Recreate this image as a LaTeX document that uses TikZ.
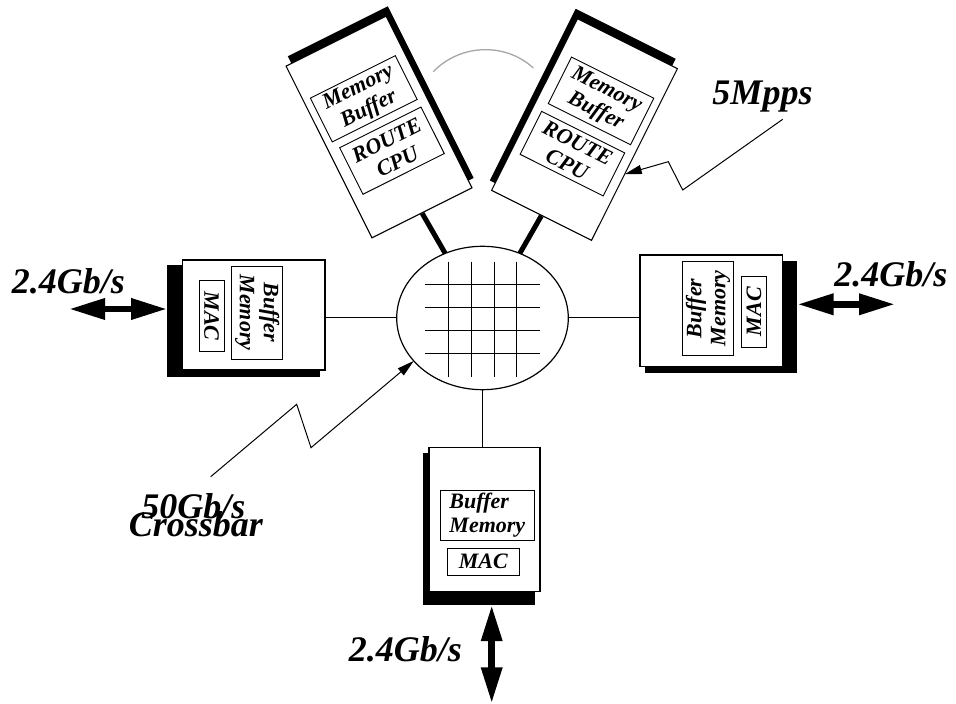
\documentclass[tikz,border=0pt]{standalone}
\usepackage{fontspec}
\setmainfont{Liberation Serif}
\usetikzlibrary{arrows.meta,shapes.geometric,calc}
\begin{document}
\begin{tikzpicture}[x=1pt,y=1pt,
  card/.style={draw, fill=white, line width=1.1pt, inner sep=0pt},
  shadowbox/.style={fill=black, draw=none, inner sep=0pt},
  inbox/.style={draw, fill=white, line width=0.9pt, inner sep=0pt, align=center,
    font=\fontsize{22}{24}\selectfont\bfseries\itshape},
  big/.style={font=\fontsize{36}{36}\selectfont\bfseries\itshape, inner sep=0pt},
  link/.style={line width=1pt},
  thicklink/.style={line width=5pt},
  gridline/.style={line width=0.9pt},
  dbl/.style={line width=6.5pt, {Triangle[length=36pt,width=20pt]}-{Triangle[length=36pt,width=20pt]}},
  leader/.style={line width=1pt, -{Triangle[length=17pt,width=9pt]}}
]
\useasboundingbox (0,0) rectangle (956,704);
\fill[white] (0,0) rectangle (956,704);

% crossbar
\node[draw, ellipse, fill=white, line width=1.2pt, minimum width=171.6pt, minimum height=143.4pt, inner sep=0pt, outer sep=0pt] (xbar) at (482.5,386) {};
\foreach \x in {448.3,471.7,494.3,516.7} \draw[gridline] (\x,442.3) -- (\x,327.3);
\foreach \y in {419.7,396.3,374,350.7} \draw[gridline] (425,\y) -- (540,\y);

% left card
\node[shadowbox, minimum width=152.7pt, minimum height=111.7pt] (lsh) at (243.65,383.15) {};
\node[card, minimum width=142.3pt, minimum height=110pt] (lcard) at (253.85,389) {};
\node[inbox, rotate=-90, minimum width=93pt, minimum height=51pt] (lbuf) at (257.2,391.5) {Buffer\\Memory};
\node[inbox, rotate=-90, minimum width=71pt, minimum height=25pt] (lmac) at (211.5,387.8) {MAC};

% right card
\node[shadowbox, minimum width=152.3pt, minimum height=112pt] (rsh) at (721.15,387.3) {};
\node[card, minimum width=142.7pt, minimum height=111.7pt] (rcard) at (711.35,393.15) {};
\node[inbox, rotate=90, minimum width=93.3pt, minimum height=50.6pt] (rbuf) at (708,395.65) {Buffer\\Memory};
\node[inbox, rotate=90, minimum width=71.3pt, minimum height=25.7pt] (rmac) at (753.85,392.35) {MAC};

% bottom card
\node[shadowbox, minimum width=112.3pt, minimum height=151.7pt] (bsh) at (478.85,174.85) {};
\node[card, minimum width=111pt, minimum height=144.4pt] (bcard) at (484.5,184.5) {};
\node[inbox, align=left, minimum width=93.3pt, minimum height=50.7pt] (bbuf) at (487.35,188.65) {Buffer\\Memory};
\node[inbox, minimum width=72pt, minimum height=26.7pt] (bmac) at (483.3,142.35) {MAC};

% top-left card
\begin{scope}[shift={(379,577)}, rotate=26.57, every node/.append style={transform shape}]
\node[shadowbox, minimum width=111.8pt, minimum height=192pt] (tlsh) at (6,8) {};
\node[card, minimum width=111.8pt, minimum height=192pt] (tl) at (0,0) {};
\node[inbox, minimum width=95pt, minimum height=49pt] (tlmem) at (-1,32) {Memory\\Buffer};
\node[inbox, minimum width=91pt, minimum height=52pt] (tlcpu) at (1,-27) {ROUTE\\CPU};
\end{scope}

% top-right card
\begin{scope}[shift={(584.5,574.5)}, rotate=-26.57, every node/.append style={transform shape}]
\node[shadowbox, minimum width=111.8pt, minimum height=192pt] (trsh) at (-6,8) {};
\node[card, minimum width=111.8pt, minimum height=192pt] (tr) at (0,0) {};
\node[inbox, minimum width=92pt, minimum height=52pt] (trmem) at (2,33) {Memory\\Buffer};
\node[inbox, minimum width=93pt, minimum height=48pt] (trcpu) at (0,-27) {ROUTE\\CPU};
\coordinate (mtip) at (56,-22);
\end{scope}

% connectors
\draw[link] (xbar.west) -- (xbar.west -| lcard.east);
\draw[link] (xbar.east) -- (xbar.east -| rcard.west);
\draw[link] (xbar.south) -- (xbar.south |- bcard.north);
\draw[thicklink] (tl.south) -- (xbar.120);
\draw[thicklink] (tr.south) -- (xbar.60);

% gray arc
\draw[gray!70, line width=1.3pt] (433.3,632.3) .. controls (460,660) and (505,662) .. (533.3,636);

% external links
\coordinate (la) at (69,395);
\draw[dbl] (la) -- (la -| lsh.west);
\coordinate (ra) at (895,399.7);
\draw[dbl] (ra -| rsh.east) -- (ra);
\coordinate (ba) at (491.7,0.7);
\draw[dbl] (ba |- bsh.south) -- (ba);

% labels
\node[big, anchor=base] (l1) at (68.5,410.7) {2.4Gb/s};
\node[big, anchor=base] (l2) at (890.8,417.3) {2.4Gb/s};
\node[big, anchor=base] (l3) at (405.5,42.3) {2.4Gb/s};
\node[big, anchor=base] (l4) at (762.5,599) {5Mpps};
\node[big, anchor=base] (l5) at (193.3,185.7) {50Gb/s};
\node[big, anchor=base] (l6) at (195.8,167.3) {Crossbar};

% leaders
\coordinate (m0) at (782.7,584.7);
\draw[leader] (m0) -- (682.7,514) -- (668.3,542.3) -- (mtip);
\coordinate (c0) at (210.7,227.3);
\draw[leader] (c0) -- (296.7,299.7) -- (311,256.3) -- (xbar.212);
\end{tikzpicture}
\end{document}
